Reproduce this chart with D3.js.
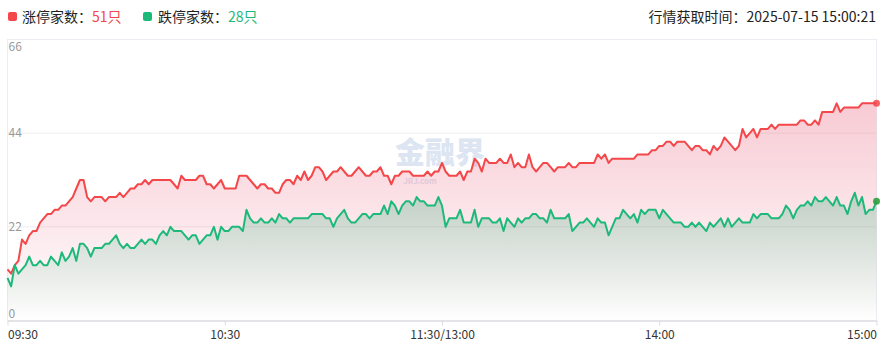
<!DOCTYPE html>
<html>
<head>
<meta charset="utf-8">
<script src="https://cdn.jsdelivr.net/npm/d3@7/dist/d3.min.js"></script>
<style>
html,body{margin:0;padding:0;background:#fff;}
svg{display:block;font-family:"Noto Sans CJK SC","Noto Sans",sans-serif;}
</style>
</head>
<body>
<svg id="chart" width="886" height="356"></svg>
<script>
// ---- data ----
const upCount = [12,11,13,14,19,18,20,21,21,23,24,25,25,26,26,27,27,28,29,31,33,33,29,28,29,29,29,28,29,29,29,30,29,30,31,
31,32,32,33,32,33,33,33,33,33,33,32,31,34,33,33,33,33,34,34,32,32,31,32,33,31,31,31,31,34,34,34,33,
32,31,32,32,31,31,30,30,32,33,33,32,34,33,35,33,34,36,36,35,33,34,35,35,36,35,34,34,35,36,35,34,34,35,
35,36,34,34,32,34,34,35,35,35,34,34,34,34,35,34,35,35,37,35,34,34,34,35,33,35,35,38,37,35,38,37,37,37,38,
37,37,39,36,37,36,36,39,36,35,36,37,37,36,35,36,36,36,37,36,36,37,37,37,37,37,39,38,39,37,38,38,38,38,
38,38,38,39,39,39,39,40,40,41,41,42,42,41,42,42,42,41,40,41,41,40,40,39,41,40,41,43,42,41,40,41,45,43,
44,45,43,45,45,45,46,45,46,46,46,46,46,46,47,47,46,46,47,46,49,49,49,49,51,49,50,50,50,50,50,51,51,51,51,51];
const downCount = [10,8,13,11,12,13,15,13,13,14,13,13,15,14,13,16,14,15,17,14,18,18,17,15,17,17,17,18,18,19,20,18,17,18,17,
17,18,19,18,19,19,18,20,21,20,22,21,21,21,20,19,20,20,18,19,20,20,22,19,22,21,21,22,22,22,21,26,24,
23,23,24,23,23,24,23,25,24,24,23,24,24,24,24,24,25,25,25,25,24,24,22,24,25,26,24,23,23,24,25,25,24,25,
25,25,27,25,28,27,25,27,28,28,27,29,28,28,27,27,27,29,27,22,24,24,24,26,23,23,23,26,22,24,24,24,23,23,24,
21,24,23,22,24,23,24,24,25,25,24,24,23,26,24,24,24,24,25,21,22,23,23,24,23,22,24,23,23,20,22,24,24,26,
25,24,25,23,26,25,26,26,26,24,26,25,24,23,23,23,22,22,23,22,23,22,21,23,22,23,24,22,24,22,23,24,23,23,
23,25,24,25,25,25,24,24,24,25,27,26,24,26,27,27,28,27,29,28,28,29,28,27,29,27,27,25,28,30,27,29,25,26,26,28];
const xTickIndex = [0, 60, 120, 180, 240];
const xTickLabels = ["09:30", "10:30", "11:30/13:00", "14:00", "15:00"];
const yTicks = [0, 22, 44, 66];
const upLabel = "涨停家数：", downLabel = "跌停家数：";
const upValueText = "51只", downValueText = "28只";
const timeText = "行情获取时间：2025-07-15 15:00:21";

// ---- layout ----
const svg = d3.select("#chart");
const L = 7.5, R = 876.5, T = 39.5, B = 320.5;
const x = d3.scaleLinear().domain([0, 240]).range([L, R]);
const y = d3.scaleLinear().domain([0, 66]).range([B, T]);
const RED = "#f4474a", GREEN = "#1db97a";

const defs = svg.append("defs");
function grad(id, color, topVal, o1, o2) {
  const g = defs.append("linearGradient").attr("id", id)
    .attr("gradientUnits", "userSpaceOnUse")
    .attr("x1", 0).attr("x2", 0).attr("y1", y(topVal)).attr("y2", B);
  g.append("stop").attr("offset", 0).attr("stop-color", color).attr("stop-opacity", o1);
  g.append("stop").attr("offset", 1).attr("stop-color", color).attr("stop-opacity", o2);
}
grad("gRed", "#e6506e", d3.max(upCount), 0.30, 0.0);
grad("gGreen", "#14a064", d3.max(downCount), 0.25, 0.0);

// grid lines
svg.append("g").selectAll("line").data(yTicks.filter(v => v > 0 && v < 66)).join("line")
  .attr("x1", L).attr("x2", R).attr("y1", d => y(d)).attr("y2", d => y(d))
  .attr("stroke", "#eeeeee").attr("stroke-width", 1);
// border
svg.append("rect").attr("x", L).attr("y", T).attr("width", R - L).attr("height", B - T)
  .attr("fill", "none").attr("stroke", "#ececf2").attr("stroke-width", 1);

// watermark
const wm = svg.append("g");
wm.append("text").attr("x", 440).attr("y", 163).attr("text-anchor", "middle")
  .attr("font-size", 30).attr("font-weight", 900).attr("fill", "#dde5f2").text("金融界");
wm.append("text").attr("x", 420).attr("y", 184).attr("text-anchor", "middle")
  .attr("font-size", 8).attr("font-weight", 700).attr("fill", "#dde5f2").text("JRJ.com");

// areas & lines
const idx = d3.range(241);
const area = arr => d3.area().x(i => x(i)).y0(B).y1(i => y(arr[i]))(idx);
const line = arr => d3.line().x(i => x(i)).y(i => y(arr[i]))(idx);
svg.append("path").attr("d", area(upCount)).attr("fill", "url(#gRed)");
svg.append("path").attr("d", area(downCount)).attr("fill", "url(#gGreen)");
svg.append("path").attr("d", line(upCount)).attr("fill", "none").attr("stroke", RED)
  .attr("stroke-width", 2).attr("stroke-linejoin", "round");
svg.append("path").attr("d", line(downCount)).attr("fill", "none").attr("stroke", GREEN)
  .attr("stroke-width", 2).attr("stroke-linejoin", "round");
svg.append("circle").attr("cx", x(240)).attr("cy", y(upCount[240])).attr("r", 3.5).attr("fill", RED).attr("opacity", 0.85);
svg.append("circle").attr("cx", x(240)).attr("cy", y(downCount[240])).attr("r", 3.5).attr("fill", "#2e9d3c").attr("opacity", 0.9);

// x axis
const xAxis = svg.append("g").attr("transform", `translate(0,${B})`)
  .call(d3.axisBottom(x).tickValues(xTickIndex).tickFormat((d, i) => xTickLabels[i]).tickSize(5).tickSizeOuter(0));
xAxis.select(".domain").attr("stroke", "#e4e4e8").attr("stroke-width", 2);
xAxis.selectAll(".tick line").attr("stroke", "#dddddd");
xAxis.selectAll(".tick text").attr("fill", "#333").attr("font-size", 12)
  .attr("font-family", "'Noto Sans CJK SC','Noto Sans',sans-serif").attr("dy", "0.85em")
  .attr("text-anchor", (d, i) => i === 0 ? "start" : (i === xTickIndex.length - 1 ? "end" : "middle"));

// y labels (inside)
svg.append("g").selectAll("text").data(yTicks).join("text")
  .attr("x", L + 1).attr("y", d => y(d))
  .attr("dy", d => d === 66 ? "0.95em" : (d === 0 ? "-0.25em" : "0.35em"))
  .attr("font-size", 12).attr("fill", "#9a9a9a").text(d => d);

// legend
const lg = svg.append("g");
lg.append("rect").attr("x", 8).attr("y", 12).attr("width", 9).attr("height", 9).attr("rx", 2).attr("fill", RED);
const t1 = lg.append("text").attr("x", 22).attr("y", 22).attr("font-size", 14).attr("fill", "#222");
t1.append("tspan").text(upLabel);
t1.append("tspan").attr("fill", RED).text(upValueText);
lg.append("rect").attr("x", 143).attr("y", 12).attr("width", 9).attr("height", 9).attr("rx", 2).attr("fill", GREEN);
const t2 = lg.append("text").attr("x", 158).attr("y", 22).attr("font-size", 14).attr("fill", "#222");
t2.append("tspan").text(downLabel);
t2.append("tspan").attr("fill", GREEN).text(downValueText);
svg.append("text").attr("x", 876).attr("y", 22).attr("text-anchor", "end")
  .attr("font-size", 14).attr("fill", "#222").text(timeText);
</script>
</body>
</html>
